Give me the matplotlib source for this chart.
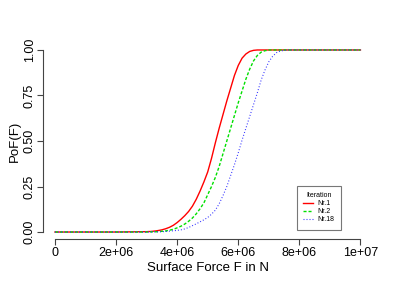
import matplotlib
matplotlib.use("Agg")
import matplotlib.pyplot as plt
import numpy as np

plt.rcParams['font.family'] = ['Liberation Sans', 'DejaVu Sans']

# surface force in 1e6 N
force = [0, 2,
         3.0, 3.125, 3.25, 3.375, 3.5, 3.625, 3.75, 3.875,
         4.0, 4.125, 4.25, 4.375, 4.5, 4.625, 4.75, 4.875,
         5.0, 5.125, 5.25, 5.375, 5.5, 5.625, 5.75, 5.875,
         6.0, 6.125, 6.25, 6.375, 6.5, 6.625, 6.75, 6.875,
         7.0, 7.125, 7.25, 7.375, 7.5, 7.625, 7.75, 7.875,
         8.0, 10]
pof_nr1 = [0, 0,
           0.002, 0.003, 0.005, 0.008, 0.012, 0.018, 0.026, 0.037,
           0.052, 0.070, 0.090, 0.113, 0.142, 0.180, 0.225, 0.275,
           0.330, 0.405, 0.490, 0.570, 0.645, 0.720, 0.790, 0.860,
           0.915, 0.955, 0.978, 0.992, 0.998, 1, 1, 1,
           1, 1, 1, 1, 1, 1, 1, 1,
           1, 1]
pof_nr2 = [0, 0,
           0, 0.001, 0.001, 0.002, 0.004, 0.006, 0.010, 0.015,
           0.023, 0.032, 0.044, 0.059, 0.077, 0.100, 0.128, 0.160,
           0.205, 0.250, 0.300, 0.360, 0.430, 0.500, 0.570, 0.640,
           0.710, 0.775, 0.840, 0.895, 0.940, 0.970, 0.988, 0.996,
           1, 1, 1, 1, 1, 1, 1, 1,
           1, 1]
pof_nr18 = [0, 0,
            0, 0, 0.001, 0.001, 0.002, 0.003, 0.005, 0.007,
            0.009, 0.012, 0.017, 0.025, 0.035, 0.045, 0.056, 0.067,
            0.080, 0.098, 0.120, 0.155, 0.200, 0.250, 0.310, 0.370,
            0.435, 0.505, 0.570, 0.635, 0.700, 0.765, 0.835, 0.890,
            0.935, 0.965, 0.985, 0.994, 0.998, 1, 1, 1,
            1, 1]
labels = ["Nr.1", "Nr.2", "Nr.18"]

x = np.array(force) * 1e6

fig = plt.figure(figsize=(4.15, 2.82), dpi=100)
ax = fig.add_axes([0.103, 0.1514, 0.795, 0.6972])

ax.plot(x, pof_nr1, color="#FF0000", lw=1.0, ls="-", label=labels[0])
ax.plot(x, pof_nr2, color="#00E000", lw=1.0, ls=(0, (2.2, 1.4)), label=labels[1])
ax.plot(x, pof_nr18, color="#3333FF", lw=0.8, ls=(0, (0.9, 1.8)), label=labels[2])

ax.set_xlim(-0.04e7, 1.04e7)
ax.set_ylim(-0.04, 1.04)
for s in ["top", "right"]:
    ax.spines[s].set_visible(False)
ax.spines["left"].set_bounds(0, 1)
ax.spines["bottom"].set_bounds(0, 1e7)
ax.spines["left"].set_color("#444444")
ax.spines["bottom"].set_color("#444444")

xt = [0, 2e6, 4e6, 6e6, 8e6, 1e7]
ax.set_xticks(xt)
ax.set_xticklabels(["0", "2e+06", "4e+06", "6e+06", "8e+06", "1e+07"])
yt = [0, 0.25, 0.5, 0.75, 1.0]
ax.set_yticks(yt)
ax.set_yticklabels(["0.00", "0.25", "0.50", "0.75", "1.00"], rotation=90, va="center")
ax.tick_params(direction="out", length=4, width=0.8, colors="#444444", labelcolor="black", labelsize=9)
ax.tick_params(axis="x", pad=1.5)
ax.tick_params(axis="y", pad=1)

ax.set_xlabel("Surface Force F in N", fontsize=9.5, labelpad=2)
ax.set_ylabel("PoF(F)", fontsize=9.5, labelpad=2)

leg = ax.legend(title="Iteration", loc="upper left", bbox_to_anchor=(297 / 415, 1 - 186 / 282),
                bbox_transform=fig.transFigure, fontsize=5, title_fontsize=5,
                frameon=True, fancybox=False, handlelength=1.4, handletextpad=0.7,
                borderpad=0.9, labelspacing=0.15, borderaxespad=0)
leg.get_frame().set_edgecolor("#555555")
leg.get_frame().set_linewidth(0.8)

fig.savefig("out.png", dpi=100)
